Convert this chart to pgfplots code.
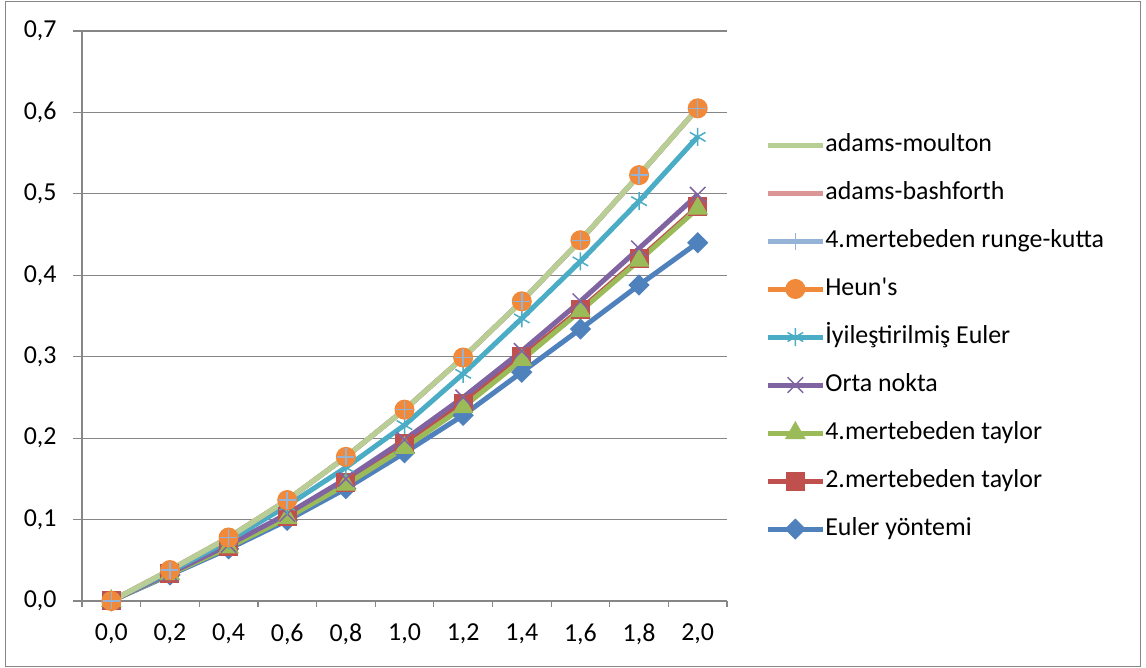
\documentclass[border=0pt]{standalone}
\usepackage{pgfplots}
\usepackage{pgfplotstable}
\pgfplotsset{compat=1.18}
\usepackage{fontspec}
\setmainfont{Carlito}[Ligatures=TeXOff]
\definecolor{cEuler}{HTML}{4F81BD}
\definecolor{cTa}{HTML}{C0504D}
\definecolor{cTb}{HTML}{9BBB59}
\definecolor{cOrta}{HTML}{8064A2}
\definecolor{cIE}{HTML}{4BACC6}
\definecolor{cHeun}{HTML}{F08A3A}
\definecolor{cRK}{HTML}{95B3D7}
\definecolor{cAB}{HTML}{D99694}
\definecolor{cAM}{HTML}{B7CE95}
\definecolor{gridc}{HTML}{868686}
\pgfplotstableread{
i euler tay2 tay4 orta ie heun rk ab am
0  0     0     0     0     0     0     0     0     0
1  0.032 0.034 0.033 0.034 0.036 0.038 0.038 0.038 0.038
2  0.064 0.067 0.066 0.069 0.074 0.078 0.078 0.078 0.078
3  0.099 0.104 0.102 0.107 0.117 0.124 0.124 0.124 0.124
4  0.138 0.146 0.143 0.150 0.164 0.177 0.177 0.177 0.177
5  0.182 0.194 0.188 0.198 0.216 0.235 0.235 0.235 0.235
6  0.228 0.243 0.238 0.250 0.279 0.299 0.299 0.299 0.299
7  0.281 0.300 0.296 0.307 0.347 0.368 0.368 0.368 0.368
8  0.334 0.358 0.356 0.368 0.417 0.443 0.443 0.443 0.443
9  0.388 0.420 0.418 0.433 0.491 0.523 0.523 0.523 0.523
10 0.440 0.484 0.482 0.499 0.570 0.605 0.605 0.605 0.605
}\data
\begin{document}
\begin{tikzpicture}[x=1bp,y=1bp]
\useasboundingbox (0,0) rectangle (1146,668);
\draw[gridc, line width=1.2bp] (5.5,1.5) rectangle (1140.5,666.5);
\begin{axis}[
  at={(82bp,67bp)}, anchor=south west,
  width=645bp, height=570bp, scale only axis,
  xmin=-0.5, xmax=10.5, ymin=0, ymax=0.7,
  clip=false,
  axis x line*=bottom, axis y line*=left,
  axis line style={gridc, line width=1.2bp},
  ytick={0,0.1,0.2,0.3,0.4,0.5,0.6,0.7},
  ymajorgrids, grid style={gridc, line width=1.2bp},
  xtick={0,1,2,3,4,5,6,7,8,9,10},
  xticklabels={{0,0},{0,2},{0,4},{0,6},{0,8},{1,0},{1,2},{1,4},{1,6},{1,8},{2,0}},
  minor xtick={-0.5,0.5,1.5,2.5,3.5,4.5,5.5,6.5,7.5,8.5,9.5,10.5},
  major x tick style={draw=none},
  minor x tick style={gridc, line width=1.2bp},
  major y tick style={gridc, line width=1.2bp},
  tick align=outside,
  major tick length=9bp, minor tick length=6bp,
  tick label style={font=\fontsize{26}{31}\selectfont, black},
  yticklabel style={xshift=-13bp},
  xticklabel style={yshift=-10bp},
  /pgf/number format/.cd, fixed, fixed zerofill, precision=1, use comma, assume math mode=true,
  /pgfplots/.cd,
  legend image code/.code={\draw[mark repeat=2, mark phase=2, #1] plot coordinates {(0bp,0bp) (27.5bp,0bp) (55bp,0bp)};},
  reverse legend,
  legend style={at={(1.0545,0.824)}, anchor=north west, draw=none, fill=none,
    font=\fontsize{26}{31}\selectfont, row sep=25bp,
    nodes={inner sep=0pt, text height=18bp, text depth=5bp},
    column sep=0bp},
  legend cell align=left,
  every axis plot/.append style={line width=5bp},
]
\addplot[cEuler, mark=square*, mark size=7bp, mark options={rotate=45, line width=1bp}] table[x=i, y=euler] {\data};
\addlegendentry{Euler yöntemi}
\addplot[cTa, mark=square*, mark size=9bp, mark options={line width=1bp}] table[x=i, y=tay2] {\data};
\addlegendentry{2.mertebeden taylor}
\addplot[cTb, mark=triangle*, mark size=11bp, mark options={line width=1bp}] table[x=i, y=tay4] {\data};
\addlegendentry{4.mertebeden taylor}
\addplot[cOrta, mark=x, mark size=11bp, mark options={line width=1.5bp}] table[x=i, y=orta] {\data};
\addlegendentry{Orta nokta}
\addplot[cIE, mark=asterisk, mark size=9bp, mark options={line width=1.5bp}] table[x=i, y=ie] {\data};
\addlegendentry{İyileştirilmiş Euler}
\addplot[cHeun, mark=*, mark size=9.5bp, mark options={line width=1bp}] table[x=i, y=heun] {\data};
\addlegendentry{Heun's}
\addplot[cRK, mark=+, mark size=8.5bp, mark options={line width=1.5bp}] table[x=i, y=rk] {\data};
\addlegendentry{4.mertebeden runge-kutta}
\addplot[cAB, mark=none] table[x=i, y=ab] {\data};
\addlegendentry{adams-bashforth}
\addplot[cAM, mark=none] table[x=i, y=am] {\data};
\addlegendentry{adams-moulton}
\addplot[cRK, only marks, forget plot, mark=+, mark size=8.5bp, mark options={line width=1.5bp}] table[x=i, y=rk] {\data};
\end{axis}
\end{tikzpicture}
\end{document}
